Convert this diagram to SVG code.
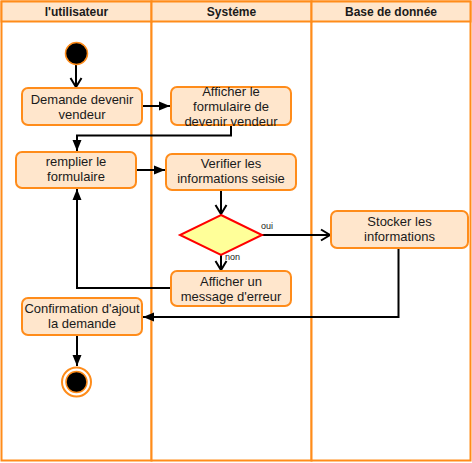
<svg xmlns="http://www.w3.org/2000/svg" width="472" height="463" viewBox="0 0 472 463">
<defs>
<marker id="block" markerUnits="userSpaceOnUse" markerWidth="12" markerHeight="12" refX="11" refY="6" orient="auto">
<path d="M0,1.5 L11,6 L0,10.5 Z" fill="#000"/>
</marker>
<marker id="open" markerUnits="userSpaceOnUse" markerWidth="12" markerHeight="14" refX="10" refY="7" orient="auto">
<path d="M1,1.5 L10,7 L1,12.5" fill="none" stroke="#000" stroke-width="2"/>
</marker>
</defs>
<style>
.lane{fill:#ffffff;stroke:#ff8c1a;stroke-width:2}
.head{fill:#ffe6cc;stroke:#ff8c1a;stroke-width:2}
.ht{font-family:"Liberation Sans",Arial,sans-serif;font-size:12px;font-weight:bold;fill:#1a1a1a;text-anchor:middle}
.box{fill:#ffe6cc;stroke:#ff8c1a;stroke-width:2}
.t{font-family:"Liberation Sans",Arial,sans-serif;font-size:13px;fill:#1a1a1a;text-anchor:middle}
.lbl{font-family:"Liberation Sans",Arial,sans-serif;font-size:9px;fill:#1a1a1a}
.c{fill:none;stroke:#000;stroke-width:2}
</style>
<g id="lanes">
<rect class="lane" x="1.5" y="1.5" width="150" height="459"/>
<rect class="lane" x="151.5" y="1.5" width="160" height="459"/>
<rect class="lane" x="311.5" y="1.5" width="159" height="459"/>
<rect class="head" x="1.5" y="1.5" width="150" height="20"/>
<rect class="head" x="151.5" y="1.5" width="160" height="20"/>
<rect class="head" x="311.5" y="1.5" width="159" height="20"/>
<text class="ht" x="76.5" y="16">l'utilisateur</text>
<text class="ht" x="231.5" y="16">Systéme</text>
<text class="ht" x="391" y="16">Base de donnée</text>
</g>
<g id="connectors">
<path class="c" d="M76,65 V87" marker-end="url(#open)"/>
<path class="c" d="M142,106 H170" marker-end="url(#block)"/>
<path class="c" d="M231,126 V135.5 H77 V151" marker-end="url(#block)"/>
<path class="c" d="M136,170 H165" marker-end="url(#block)"/>
<path class="c" d="M221,190 V214" marker-end="url(#open)"/>
<path class="c" d="M262,235 H330" marker-end="url(#open)"/>
<path class="c" d="M221,255 V270" marker-end="url(#open)"/>
<path class="c" d="M171,288 H77 V189" marker-end="url(#block)"/>
<path class="c" d="M398.5,248 V317 H143" marker-end="url(#block)"/>
<path class="c" d="M77,335 V366" marker-end="url(#block)"/>
<text class="lbl" x="261" y="229">oui</text>
<text class="lbl" x="225" y="260">non</text>
</g>
<g id="start">
<circle cx="76.5" cy="53.5" r="11" fill="#000" stroke="#ff8c1a" stroke-width="1.5"/>
</g>
<g id="demande">
<rect class="box" x="22" y="88" width="120" height="37" rx="6"/>
<text class="t" x="82" y="103.5">Demande devenir</text>
<text class="t" x="82" y="118.5">vendeur</text>
</g>
<g id="afficher-formulaire">
<rect class="box" x="171" y="87" width="120" height="38" rx="6"/>
<text class="t" x="231" y="95.5">Afficher le</text>
<text class="t" x="231" y="110.5">formulaire de</text>
<text class="t" x="231" y="125.5">devenir vendeur</text>
</g>
<g id="remplier">
<rect class="box" x="16" y="152" width="120" height="36" rx="6"/>
<text class="t" x="76" y="166">remplier le</text>
<text class="t" x="76" y="181">formulaire</text>
</g>
<g id="verifier">
<rect class="box" x="166" y="154" width="130" height="36" rx="6"/>
<text class="t" x="231" y="168">Verifier les</text>
<text class="t" x="231" y="183">informations seisie</text>
</g>
<g id="decision">
<path d="M221,215 L262,235 L221,255 L180,235 Z" fill="#ffff99" stroke="#ff0000" stroke-width="2"/>
</g>
<g id="stocker">
<rect class="box" x="331" y="211" width="137" height="37" rx="6"/>
<text class="t" x="399.5" y="226">Stocker les</text>
<text class="t" x="399.5" y="241">informations</text>
</g>
<g id="erreur">
<rect class="box" x="171" y="271" width="120" height="35" rx="6"/>
<text class="t" x="231" y="285.5">Afficher un</text>
<text class="t" x="231" y="300.5">message d'erreur</text>
</g>
<g id="confirmation">
<rect class="box" x="22" y="298" width="120" height="37" rx="6"/>
<text class="t" x="82" y="313">Confirmation d'ajout</text>
<text class="t" x="82" y="328">la demande</text>
</g>
<g id="end">
<circle cx="76.5" cy="382" r="14.5" fill="#fff" stroke="#ff8c1a" stroke-width="2"/>
<circle cx="76.5" cy="382" r="10.5" fill="#000" stroke="#ff8c1a" stroke-width="1.5"/>
</g>
</svg>
